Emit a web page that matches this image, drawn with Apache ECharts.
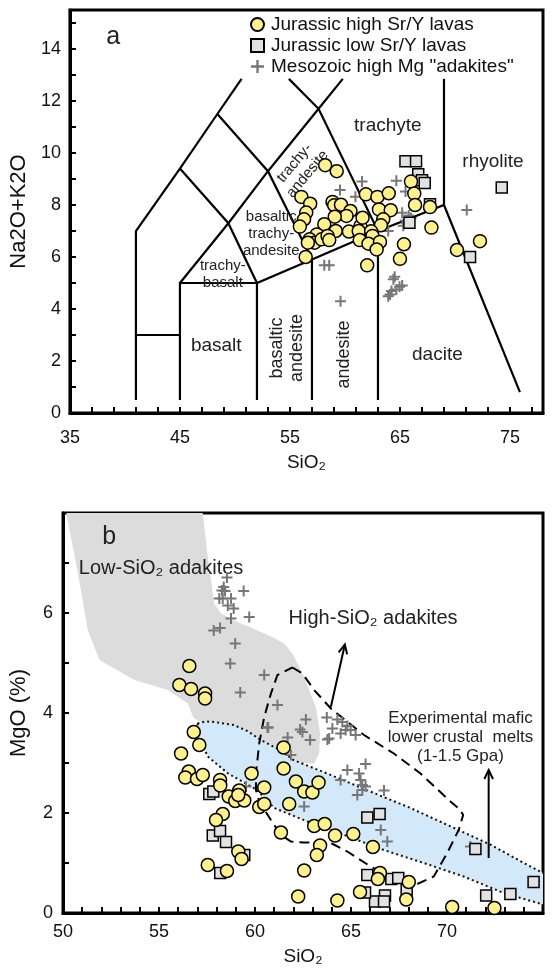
<!DOCTYPE html>
<html>
<head>
<meta charset="utf-8">
<script src="https://cdn.jsdelivr.net/npm/echarts@6/dist/echarts.min.js"></script>
<style>
  html, body { margin: 0; padding: 0; background: #fff; }
  #chart { width: 553px; height: 971px; }
</style>
</head>
<body>
<div id="chart"></div>
<script>
// ---- panel a : TAS (SiO2 vs Na2O+K2O) ----
const aHighSrY = [[58.2,9.53],[59.25,9.3],[66.0,8.9],[66.3,8.44],[66.37,8.0],[67.73,7.92],[67.86,7.13],[56.04,8.31],[56.84,8.05],[56.48,7.71],[56.28,7.45],[55.9,7.17],[58.87,8.12],[59.02,7.99],[59.64,8.01],[60.5,7.77],[60.14,7.58],[59.07,7.55],[58.12,7.26],[59.16,7.0],[60.36,6.98],[61.4,7.19],[61.25,7.0],[61.6,7.51],[61.9,8.41],[62.95,8.31],[63.98,8.45],[63.09,7.83],[64.16,7.8],[63.48,7.45],[63.27,7.22],[62.38,6.99],[62.5,6.81],[61.34,6.65],[62.14,6.51],[63.18,6.58],[62.88,6.29],[65.36,6.49],[65.0,5.93],[62.02,5.68],[56.43,6.0],[57.44,6.87],[56.79,6.68],[57.23,6.55],[57.88,6.68],[58.42,6.81],[56.63,6.55],[58.57,6.65],[72.27,6.61],[70.18,6.27]];
const aLowSrY = [[65.5,9.68],[66.46,9.68],[66.66,9.18],[67.0,8.95],[67.25,8.85],[74.25,8.67],[71.37,6.0],[65.86,7.32],[67.73,8.03]];
const aAdakite = [[61.55,8.9],[59.55,8.58],[60.95,8.32],[64.67,8.93],[65.5,8.52],[71.07,7.81],[63.93,7.0],[65.2,7.7],[65.5,7.4],[65.8,7.6],[65.3,7.2],[66.0,7.5],[65.6,7.3],[58.12,5.68],[58.57,5.68],[64.52,5.24],[59.6,4.3],[64.4,5.14],[64.1,4.56],[64.67,4.75],[64.96,4.86],[64.23,4.69],[63.93,4.49],[65.2,4.9]];

// TAS field boundaries (Le Bas et al.)
const tasLines = [
  [[41,0.5],[41,7],[45,9.4],[48.4,11.5],[50.6,12.85]],
  [[41,3],[45,3]],
  [[45,0.5],[45,5],[52,5],[52,0.5]],
  [[45,5],[49.4,7.3],[53,9.3],[57.6,11.7],[59.8,12.85]],
  [[45,9.4],[49.4,7.3],[52,5],[57,5.9],[63,7],[69,8],[75.9,0.8]],
  [[48.4,11.5],[53,9.3],[57,5.9],[57,0.5]],
  [[54.9,12.85],[57.6,11.7],[63,7],[63,0.5]],
  [[69,8],[69,12.85]]
];

// ---- panel b : SiO2 vs MgO ----
const bHighSrY = [[56.58,4.94],[56.06,4.56],[56.67,4.48],[57.4,4.39],[57.4,4.29],[56.81,3.62],[57.1,3.36],[56.15,3.19],[56.55,2.83],[56.37,2.71],[56.98,2.68],[57.28,2.76],[58.18,2.66],[58.19,2.55],[59.82,2.79],[60.48,2.51],[58.63,2.33],[58.97,2.24],[59.18,2.45],[59.44,2.25],[59.13,2.36],[58.32,1.98],[57.97,1.86],[60.22,2.12],[60.48,2.18],[59.13,1.23],[59.3,1.08],[57.54,0.96],[58.54,0.84],[61.35,1.61],[61.49,3.31],[61.49,2.89],[62.13,2.63],[62.56,2.43],[62.99,2.41],[63.31,2.61],[61.78,2.18],[63.08,1.74],[63.63,1.78],[64.17,1.55],[65.12,1.58],[63.39,1.35],[63.22,1.16],[66.14,1.32],[62.56,0.85],[66.51,0.8],[66.4,0.68],[68.01,0.62],[65.47,0.42],[67.88,0.27],[62.25,0.33],[64.29,0.25],[70.27,0.12],[72.47,0.1]];
const bLowSrY = [[57.62,2.38],[57.83,2.43],[57.8,1.55],[58.18,1.64],[58.49,1.42],[59.44,1.16],[58.19,0.8],[65.85,1.91],[66.49,1.98],[71.48,1.28],[74.51,0.62],[73.3,0.38],[72.04,0.35],[65.85,0.76],[67.1,0.68],[67.46,0.7],[67.9,0.47],[66.77,0.35],[66.25,0.23],[66.72,0.23],[65.73,0.41]];
const bAdakite = [[58.54,6.71],[58.37,6.52],[58.28,6.45],[58.44,6.44],[58.14,6.29],[58.32,6.29],[58.75,6.29],[59.41,6.44],[58.58,6.15],[58.89,6.09],[58.75,5.89],[59.7,5.92],[57.85,5.65],[58.18,5.7],[58.97,5.39],[58.71,4.99],[60.48,4.76],[59.23,4.41],[61.17,4.16],[62.65,3.87],[62.35,3.67],[62.47,3.62],[62.87,3.46],[61.7,3.51],[60.69,3.71],[63.74,3.91],[64.03,3.69],[63.77,3.47],[64.29,3.87],[64.55,3.82],[64.81,3.74],[64.98,3.66],[65.24,3.56],[64.72,3.66],[64.46,3.59],[61.87,3.16],[65.76,2.98],[64.81,2.86],[65.42,2.79],[65.5,2.66],[65.59,2.56],[64.46,2.66],[63.86,3.49],[65.33,2.36],[65.76,2.53],[66.72,2.45],[66.55,1.66],[66.89,1.43],[62.56,2.13],[60.65,3.71],[59.53,2.53],[71.22,1.33],[65.59,2.46]];

// fields
const lowSiO2Field = [[50.17,8.0],[57.28,8.0],[57.54,7.12],[57.88,6.19],[58.23,5.99],[58.92,5.85],[60.31,5.62],[61.0,5.5],[61.52,5.39],[61.95,5.19],[62.56,4.72],[63.17,4.12],[63.39,3.59],[63.34,3.19],[63.08,2.99],[62.0,3.0],[60.0,3.2],[57.5,3.75],[56.8,3.9],[56.5,4.19],[55.46,4.46],[53.72,4.66],[51.9,5.06],[51.3,5.65],[50.78,6.79]];
const expUpper = [[57.0,3.79],[57.4,3.83],[57.9,3.82],[58.9,3.76],[59.6,3.64],[60.3,3.46],[61.35,3.25],[62.0,3.06],[63.95,2.76],[66.0,2.43],[68.1,2.1],[70.2,1.73],[72.3,1.36],[74.0,1.0],[75,0.8]];
const expLower = [[57.0,3.79],[57.1,3.5],[57.54,3.13],[58.6,2.79],[60.1,2.46],[61.0,2.1],[62.73,1.83],[64.64,1.56],[66.71,1.26],[68.79,1.0],[70.87,0.73],[72.95,0.4],[75,0.17]];
const highSiO2Field = [[61.95,4.91],[62.47,4.79],[63.08,4.46],[63.95,4.09],[65.68,3.56],[67.23,3.19],[68.62,2.79],[70.18,2.23],[70.7,2.06],[70.84,1.96],[70.61,1.66],[70.01,1.2],[69.31,0.73],[68.45,0.58],[67.41,0.66],[66.02,0.93],[64.81,1.23],[63.95,1.4],[62.56,1.41],[61.87,1.43],[61.35,1.56],[60.83,1.86],[60.22,2.23],[60.05,2.46],[60.05,2.79],[60.22,3.39],[60.48,3.92],[60.83,4.39],[61.17,4.76],[61.95,4.91]];
const arrows = [[[63.95,4.12],[64.68,5.37]], [[72.17,1.1],[72.17,2.86]]];

// text annotations [text, x, y, rotate, fontSize]
const aLabels = [
  ['a', 38.93, 14.45, 0, 25],
  ['trachyte', 63.9, 11.05, 0, 19],
  ['rhyolite', 73.45, 9.66, 0, 19],
  ['trachy-\nandesite', 56.0, 9.4, 50, 15],
  ['basaltic\ntrachy-\nandesite', 53.3, 6.9, 0, 15],
  ['trachy-\nbasalt', 48.9, 5.35, 0, 15],
  ['basalt', 48.3, 2.57, 0, 19],
  ['basaltic\nandesite', 54.77, 2.5, 90, 18],
  ['andesite', 59.96, 2.25, 90, 18],
  ['dacite', 68.4, 2.25, 0, 19]
];
const bLabels = [
  ['b', 52.41, 7.52, 0, 25],
  ['Low-SiO₂ adakites', 55.11, 6.9, 0, 20],
  ['High-SiO₂ adakites', 66.15, 5.89, 0, 20],
  ['Experimental mafic\nlower crustal  melts\n(1-1.5 Gpa)', 70.7, 3.51, 0, 17]
];

const FONT = '"Liberation Sans", Arial, Helvetica, sans-serif';
const NAME_HIGH = 'Jurassic high Sr/Y lavas';
const NAME_LOW = 'Jurassic low Sr/Y lavas';
const NAME_ADK = 'Mesozoic high Mg "adakites"';
const PLUS = 'path://M4.5,0H6.5V4.5H11V6.5H6.5V11H4.5V6.5H0V4.5H4.5Z';

const chart = echarts.init(document.getElementById('chart'));

function valueAxis(gridIndex, min, max, interval, showLabel, name, nameSize, nameGap, labelMargin) {
  return {
    gridIndex: gridIndex,
    type: 'value',
    min: min,
    max: max,
    interval: interval,
    name: name,
    nameLocation: 'middle',
    nameGap: nameGap,
    nameTextStyle: { fontSize: nameSize, color: '#111', fontFamily: FONT },
    axisLine: { show: true, onZero: false, lineStyle: { color: '#000', width: 3 } },
    axisTick: { show: true, inside: true, length: 6, lineStyle: { color: '#000', width: 2 } },
    axisLabel: {
      fontSize: 18, color: '#111', fontFamily: FONT, margin: labelMargin,
      showMaxLabel: false,
      formatter: (v) => showLabel(v) ? String(v) : ''
    },
    splitLine: { show: false }
  };
}

function polySeries(xi, points, closed, style, z) {
  return {
    type: 'custom',
    xAxisIndex: xi, yAxisIndex: xi,
    silent: true,
    z: z,
    data: [points[0]],
    renderItem: (params, api) => ({
      type: closed ? 'polygon' : 'polyline',
      shape: { points: points.map(p => api.coord(p)) },
      style: style
    })
  };
}

function textSeries(xi, labels) {
  return {
    type: 'custom',
    xAxisIndex: xi, yAxisIndex: xi,
    silent: true,
    z: 3,
    data: labels.map(l => [l[1], l[2]]),
    renderItem: (params, api) => {
      const l = labels[params.dataIndex];
      const p = api.coord([l[1], l[2]]);
      return {
        type: 'text',
        x: p[0], y: p[1],
        rotation: l[3] * Math.PI / 180,
        style: {
          text: l[0], fontSize: l[4], fontFamily: FONT, fill: '#222',
          align: 'center', verticalAlign: 'middle', lineHeight: Math.round(l[4] * 1.12)
        }
      };
    }
  };
}

function scatter(xi, name, data, kind) {
  const s = { type: 'scatter', name: name, xAxisIndex: xi, yAxisIndex: xi, data: data, z: 5 };
  if (kind === 'circle') {
    s.symbol = 'circle'; s.symbolSize = 13;
    s.itemStyle = { color: '#FFF18C', borderColor: '#000', borderWidth: 1.5, opacity: 1 };
  } else if (kind === 'rect') {
    s.symbol = 'rect'; s.symbolSize = 11;
    s.itemStyle = { color: '#E2E2E2', borderColor: '#000', borderWidth: 1.5, opacity: 1 };
  } else {
    s.symbol = PLUS; s.symbolSize = 11;
    s.itemStyle = { color: '#777', opacity: 1 };
  }
  return s;
}

const option = {
  animation: false,
  backgroundColor: '#fff',
  textStyle: { fontFamily: FONT },
  grid: [
    { left: 63, right: 10, top: 10, height: 403, show: true, borderColor: '#000', borderWidth: 3, backgroundColor: 'transparent' },
    { left: 62, right: 10, top: 513, height: 400, show: true, borderColor: '#000', borderWidth: 3, backgroundColor: 'transparent' }
  ],
  legend: {
    data: [NAME_HIGH, NAME_LOW, NAME_ADK],
    orient: 'vertical',
    left: 250, top: 15,
    itemGap: 2,
    itemWidth: 13, itemHeight: 13,
    selectedMode: false,
    padding: 0,
    textStyle: { fontSize: 19, color: '#111', fontFamily: FONT, padding: [0, 0, 0, 2] }
  },
  xAxis: [
    valueAxis(0, 35, 78, 2, v => (v - 35) % 10 === 0, 'SiO₂', 19, 40, 16),
    valueAxis(1, 50, 75, 1, v => v % 5 === 0, 'SiO₂', 19, 34, 10)
  ],
  yAxis: [
    valueAxis(0, 0, 15.5, 1, v => v % 2 === 0 && v <= 14, 'Na2O+K2O', 22, 30, 9),
    valueAxis(1, 0, 8, 1, v => v % 2 === 0, 'MgO (%)', 22, 33, 10)
  ],
  series: [
    // panel a
    {
      type: 'custom', xAxisIndex: 0, yAxisIndex: 0, silent: true, z: 2,
      data: tasLines.map(l => l[0]),
      renderItem: (params, api) => ({
        type: 'polyline',
        shape: { points: tasLines[params.dataIndex].map(p => api.coord(p)) },
        style: { stroke: '#000', lineWidth: 2.2, fill: null }
      })
    },
    textSeries(0, aLabels),
    scatter(0, NAME_ADK, aAdakite, 'plus'),
    scatter(0, NAME_LOW, aLowSrY, 'rect'),
    scatter(0, NAME_HIGH, aHighSrY, 'circle'),
    // panel b
    polySeries(1, lowSiO2Field, true, { fill: '#DCDCDD', stroke: null }, 1),
    polySeries(1, expUpper.concat(expLower.slice().reverse()), true, { fill: '#D3E8F9', stroke: null }, 1),
    polySeries(1, expUpper, false, { stroke: '#111', lineWidth: 2, lineDash: [2, 3], fill: null }, 2),
    polySeries(1, expLower, false, { stroke: '#111', lineWidth: 2, lineDash: [2, 3], fill: null }, 2),
    polySeries(1, highSiO2Field, false, { stroke: '#000', lineWidth: 2, lineDash: [10, 6], fill: null }, 2),
    {
      type: 'custom', xAxisIndex: 1, yAxisIndex: 1, silent: true, z: 2,
      data: arrows.map(a => a[0]),
      renderItem: (params, api) => {
        const a = api.coord(arrows[params.dataIndex][0]);
        const b = api.coord(arrows[params.dataIndex][1]);
        const ang = Math.atan2(b[1] - a[1], b[0] - a[0]);
        const L = 10;
        const h1 = [b[0] - L * Math.cos(ang - 0.45), b[1] - L * Math.sin(ang - 0.45)];
        const h2 = [b[0] - L * Math.cos(ang + 0.45), b[1] - L * Math.sin(ang + 0.45)];
        return {
          type: 'group',
          children: [
            { type: 'line', shape: { x1: a[0], y1: a[1], x2: b[0], y2: b[1] }, style: { stroke: '#000', lineWidth: 2 } },
            { type: 'polyline', shape: { points: [h1, b, h2] }, style: { stroke: '#000', lineWidth: 2, fill: null } }
          ]
        };
      }
    },
    textSeries(1, bLabels),
    scatter(1, NAME_ADK, bAdakite, 'plus'),
    scatter(1, NAME_LOW, bLowSrY, 'rect'),
    scatter(1, NAME_HIGH, bHighSrY, 'circle')
  ]
};

chart.setOption(option);
</script>
</body>
</html>
